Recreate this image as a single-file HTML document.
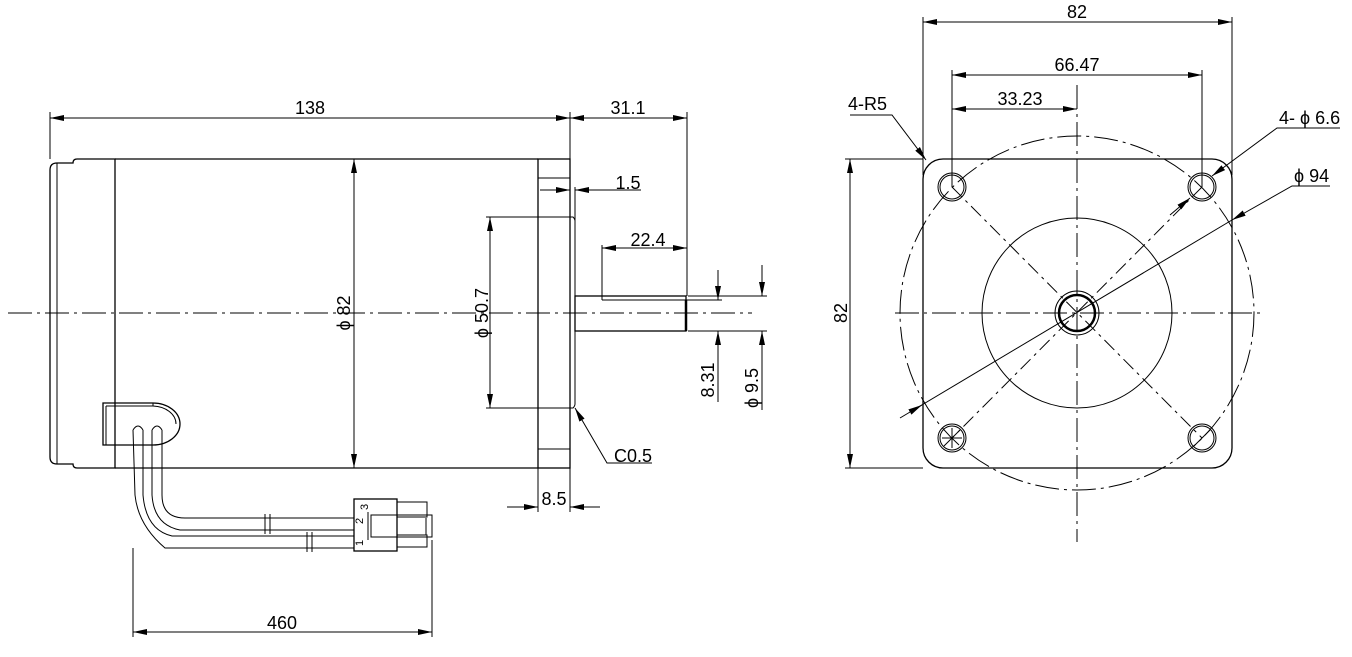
<!DOCTYPE html>
<html><head><meta charset="utf-8"><style>
html,body{margin:0;padding:0;background:#fff;}
svg{display:block;}
text{font-family:"Liberation Sans",sans-serif;font-size:18px;fill:#000;}
</style></head><body>
<svg width="1352" height="657" viewBox="0 0 1352 657" xmlns="http://www.w3.org/2000/svg">
<defs>
<marker id="a" viewBox="0 0 14 6" refX="14" refY="3" markerWidth="14" markerHeight="6" orient="auto-start-reverse" markerUnits="userSpaceOnUse"><path d="M0,0 L14,3 L0,6 z" fill="#000"/></marker>
</defs>
<g fill="none" stroke="#000" stroke-width="1">
<line x1="8" y1="313" x2="752" y2="313" stroke-dasharray="24,5,3,5"/>
<path d="M77,159 L115,159 L115,468 L77,468 Q73,468 73,464 L57,464 Q50,464 50,457 L50,170 Q50,163 57,163 L73,163 Q73,159 77,159 Z" stroke-width="1.3"/>
<line x1="57" y1="163" x2="57" y2="464"/>
<line x1="115" y1="159" x2="538" y2="159" stroke-width="1.3"/>
<line x1="115" y1="468" x2="538" y2="468" stroke-width="1.3"/>
<rect x="538" y="159" width="32" height="309" stroke-width="1.3"/>
<line x1="538" y1="178" x2="570" y2="178"/>
<line x1="538" y1="449" x2="570" y2="449"/>
<path d="M570,217 L573,217 Q575,219 575,221 L575,404 Q575,406 573,408 L570,408"/>
<rect x="575" y="296" width="111" height="35" stroke-width="1.3"/>
<line x1="602" y1="300" x2="686" y2="300"/>
<line x1="686" y1="300" x2="686" y2="331" stroke-width="2.5"/>
<line x1="50" y1="112" x2="50" y2="159"/>
<line x1="570" y1="112" x2="570" y2="217"/>
<line x1="50" y1="118" x2="570" y2="118" marker-start="url(#a)" marker-end="url(#a)"/>
<line x1="687" y1="112" x2="687" y2="296"/>
<line x1="570" y1="118" x2="687" y2="118" marker-start="url(#a)" marker-end="url(#a)"/>
<line x1="575" y1="187" x2="575" y2="296"/>
<line x1="540" y1="190" x2="570" y2="190" marker-end="url(#a)"/>
<line x1="641" y1="190" x2="575" y2="190" marker-end="url(#a)"/>
<line x1="602" y1="245" x2="602" y2="300"/>
<line x1="602" y1="248" x2="687" y2="248" marker-start="url(#a)" marker-end="url(#a)"/>
<line x1="486" y1="217" x2="570" y2="217"/>
<line x1="486" y1="408" x2="570" y2="408"/>
<line x1="490" y1="217" x2="490" y2="408" marker-start="url(#a)" marker-end="url(#a)"/>
<line x1="354" y1="159" x2="354" y2="468" marker-start="url(#a)" marker-end="url(#a)"/>
<line x1="688" y1="296" x2="767" y2="296"/>
<line x1="688" y1="331" x2="767" y2="331"/>
<line x1="686" y1="300" x2="722" y2="300"/>
<line x1="718" y1="270" x2="718" y2="300" marker-end="url(#a)"/>
<line x1="718" y1="402" x2="718" y2="331" marker-end="url(#a)"/>
<line x1="762" y1="265" x2="762" y2="296" marker-end="url(#a)"/>
<line x1="762" y1="410" x2="762" y2="331" marker-end="url(#a)"/>
<path d="M652,463 L607,463 L575,408" marker-end="url(#a)"/>
<line x1="538" y1="468" x2="538" y2="512"/>
<line x1="570" y1="468" x2="570" y2="512"/>
<line x1="507" y1="507" x2="538" y2="507" marker-end="url(#a)"/>
<line x1="600" y1="507" x2="570" y2="507" marker-end="url(#a)"/>
<path d="M103,403 L153,403 A27,21 0 0 1 153,445 L103,445 Z" stroke-width="1.3"/>
<path d="M106,406 L153,406 A24,18 0 0 1 176,424"/>
<line x1="106" y1="406" x2="106" y2="445"/>
<line x1="153" y1="403" x2="153" y2="406"/>
<path d="M133,430 L135,495 Q138,525 165,548 L354,548"/>
<path d="M143,430 L143,495 Q146,530 172,536 L354,536"/>
<path d="M152,430 L152,495 Q154,525 180,530 L354,530"/>
<path d="M162,430 L162,495 Q162,518 185,518 L354,518"/>
<path d="M133,430 Q138,422 143,430"/>
<path d="M152,430 Q157,422 162,430"/>
<line x1="265" y1="514" x2="265" y2="534"/><line x1="270" y1="514" x2="270" y2="534"/>
<line x1="307" y1="532" x2="307" y2="552"/><line x1="312" y1="532" x2="312" y2="552"/>
<rect x="354" y="499" width="43" height="52" stroke-width="1.3"/>
<rect x="397" y="502" width="30" height="15"/>
<rect x="397" y="535" width="30" height="12"/>
<rect x="371" y="515" width="61" height="22"/>
<line x1="426" y1="518" x2="426" y2="535"/>
<line x1="368" y1="512" x2="368" y2="540"/>
<line x1="133" y1="548" x2="133" y2="637"/>
<line x1="432" y1="540" x2="432" y2="637"/>
<line x1="133" y1="632" x2="432" y2="632" marker-start="url(#a)" marker-end="url(#a)"/>

<line x1="1077" y1="85" x2="1077" y2="542" stroke-dasharray="24,5,3,5"/>
<line x1="895" y1="313" x2="1262" y2="313" stroke-dasharray="24,5,3,5"/>
<rect x="923" y="159" width="309" height="309" rx="20" stroke-width="1.3"/>
<circle cx="1077" cy="313" r="177" stroke-dasharray="24,5,3,5"/>
<circle cx="1077" cy="313" r="95"/>
<circle cx="1077" cy="313" r="22"/>
<circle cx="1077" cy="313" r="18" stroke-width="2.5"/>
<line x1="952" y1="187" x2="1202" y2="438" stroke-dasharray="14,5,3,5"/>
<line x1="1202" y1="187" x2="952" y2="438" stroke-dasharray="14,5,3,5"/>
<circle cx="952" cy="187" r="14"/><circle cx="952" cy="187" r="12"/>
<circle cx="1202" cy="187" r="14"/><circle cx="1202" cy="187" r="12"/>
<circle cx="952" cy="438" r="14"/><circle cx="952" cy="438" r="12"/>
<circle cx="1202" cy="438" r="14"/><circle cx="1202" cy="438" r="12"/>
<line x1="942" y1="438" x2="962" y2="438"/><line x1="952" y1="428" x2="952" y2="448"/>
<line x1="944" y1="446" x2="960" y2="430"/>
<line x1="1194" y1="446" x2="1210" y2="430"/>
<line x1="923" y1="17" x2="923" y2="175"/>
<line x1="1232" y1="17" x2="1232" y2="175"/>
<line x1="923" y1="22" x2="1232" y2="22" marker-start="url(#a)" marker-end="url(#a)"/>
<line x1="952" y1="70" x2="952" y2="187"/>
<line x1="1202" y1="70" x2="1202" y2="187"/>
<line x1="952" y1="75" x2="1202" y2="75" marker-start="url(#a)" marker-end="url(#a)"/>
<line x1="952" y1="109" x2="1077" y2="109" marker-start="url(#a)" marker-end="url(#a)"/>
<line x1="845" y1="159" x2="923" y2="159"/>
<line x1="845" y1="468" x2="923" y2="468"/>
<line x1="850" y1="159" x2="850" y2="468" marker-start="url(#a)" marker-end="url(#a)"/>
<path d="M850,115 L892,115 L926,160" marker-end="url(#a)"/>
<path d="M1340,128 L1277,128 L1212,176" marker-end="url(#a)"/>
<line x1="1170" y1="215" x2="1190" y2="198" marker-end="url(#a)"/>
<path d="M1330,186 L1292,186 L1232,220" marker-end="url(#a)"/>
<line x1="1232" y1="220" x2="900" y2="418"/>
<line x1="910" y1="412" x2="922" y2="405" marker-end="url(#a)"/>
</g>
<g>
<text x="310" y="114" text-anchor="middle">138</text>
<text x="628" y="114" text-anchor="middle">31.1</text>
<text x="628" y="189" text-anchor="middle">1.5</text>
<text x="648" y="246" text-anchor="middle">22.4</text>
<text x="633" y="462" text-anchor="middle">C0.5</text>
<text x="554" y="505" text-anchor="middle">8.5</text>
<text x="282" y="629" text-anchor="middle">460</text>
<text transform="translate(350,313) rotate(-90)" text-anchor="middle">ϕ 82</text>
<text transform="translate(488,313) rotate(-90)" text-anchor="middle">ϕ 50.7</text>
<text transform="translate(714,380) rotate(-90)" text-anchor="middle">8.31</text>
<text transform="translate(758,388) rotate(-90)" text-anchor="middle">ϕ 9.5</text>
<text x="1077" y="18" text-anchor="middle">82</text>
<text x="1077" y="71" text-anchor="middle">66.47</text>
<text x="1020" y="105" text-anchor="middle">33.23</text>
<text x="848" y="110">4-R5</text>
<text x="1279" y="124">4- ϕ 6.6</text>
<text x="1294" y="182">ϕ 94</text>
<text transform="translate(847,313) rotate(-90)" text-anchor="middle">82</text>
<text transform="translate(363,524) rotate(-90)" style="font-size:11px">2</text>
<text transform="translate(368,510) rotate(-90)" style="font-size:11px">3</text>
<text transform="translate(363,546) rotate(-90)" style="font-size:11px">1</text>
</g>
</svg>
</body></html>
